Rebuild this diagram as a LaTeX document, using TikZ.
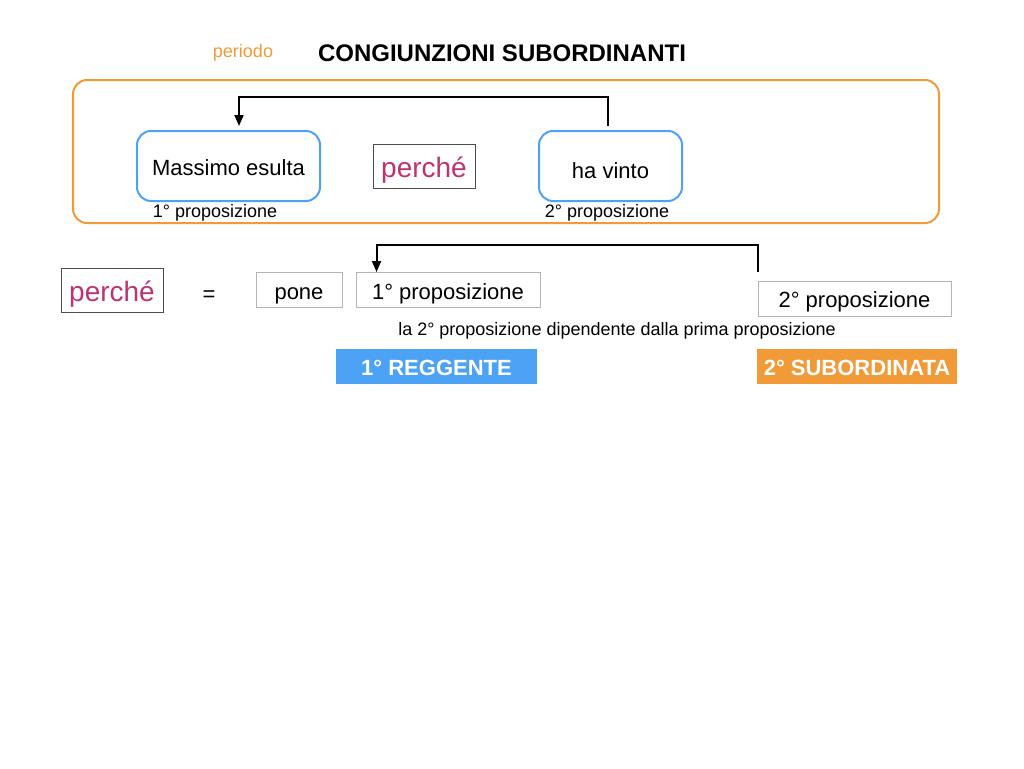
\documentclass[tikz,border=0pt]{standalone}
\usepackage{fontspec}
\setmainfont{Liberation Sans}
\usetikzlibrary{arrows.meta}
\definecolor{OrangeP}{RGB}{241,154,56}
\definecolor{BlueP}{RGB}{76,162,245}
\definecolor{PinkP}{RGB}{190,50,115}
\definecolor{GrayP}{RGB}{180,180,180}
\tikzset{
  PropStyle/.style = { rectangle, rounded corners=14pt, draw=BlueP,
                       line width=2pt, minimum height=70pt,
                       text height=22pt, text depth=4pt,
                       font=\fontsize{22}{26}\selectfont },
  ConjStyle/.style = { rectangle, draw=black!70, line width=1pt, text=PinkP,
                       minimum width=102pt, minimum height=44pt,
                       text height=28pt, text depth=6pt,
                       font=\fontsize{28}{32}\selectfont },
  BoxStyle/.style  = { rectangle, draw=GrayP, line width=1pt, minimum height=35pt,
                       text height=22pt, text depth=4pt,
                       font=\fontsize{22}{26}\selectfont },
  TagStyle/.style  = { rectangle, minimum width=201pt, minimum height=35pt,
                       text height=17pt, text depth=0pt,
                       text=white, font=\fontsize{22}{26}\selectfont\bfseries },
  LabelStyle/.style = { text height=17pt, text depth=5pt,
                        font=\fontsize{18}{22}\selectfont },
  EdgeStyle/.style = { -{Triangle[length=11pt,width=9pt]}, line width=2pt } }

\begin{document}
\begin{tikzpicture}[x=1pt,y=-1pt]
  \useasboundingbox (0,0) rectangle (1024,768);
  \node[LabelStyle, text=OrangeP](PER) at (243,51){periodo};
  \node[font=\fontsize{24}{28}\selectfont\bfseries](TITLE) at (502,53){CONGIUNZIONI SUBORDINANTI};
  \node[draw=OrangeP, line width=2pt, rounded corners=14pt,
        minimum width=866pt, minimum height=143pt](FRAME) at (506,151.5){};

  \node[PropStyle, minimum width=183pt](MAS) at (228.5,166){Massimo esulta};
  \node[ConjStyle](CONJ1) at (424,166){perché};
  \node[PropStyle, minimum width=143pt, text height=28pt](VIN) at (610.5,166){ha vinto};
  \node[LabelStyle](L1) at (215,211){1° proposizione};
  \node[LabelStyle](L2) at (607,211){2° proposizione};

  \node[ConjStyle](CONJ2) at (112,290){perché};
  \node[BoxStyle, draw=none](EQ) at (209,292){=};
  \node[BoxStyle, minimum width=86pt](PONE) at (299,290){pone};
  \node[BoxStyle, minimum width=184pt](P1) at (448,290){1° proposizione};
  \node[BoxStyle, minimum width=193pt](P2) at (854.5,298.5){2° proposizione};
  \node[LabelStyle](DEP) at (617,329){la 2° proposizione dipendente dalla prima proposizione};
  \node[TagStyle, fill=BlueP](REG) at (436.5,366.5){1° REGGENTE};
  \node[TagStyle, fill=OrangeP, minimum width=200pt](SUB) at (857,366.5){2° SUBORDINATA};

  \draw[EdgeStyle] ([xshift=-2.5pt,yshift=4pt]VIN.north) -- ++(0,-29)
    -| ([xshift=10.5pt,yshift=4pt]MAS.north);
  \draw[EdgeStyle] ([yshift=9pt]P2.north west) -- ++(0,-27)
    -| ([xshift=21pt]P1.north west);
\end{tikzpicture}
\end{document}
